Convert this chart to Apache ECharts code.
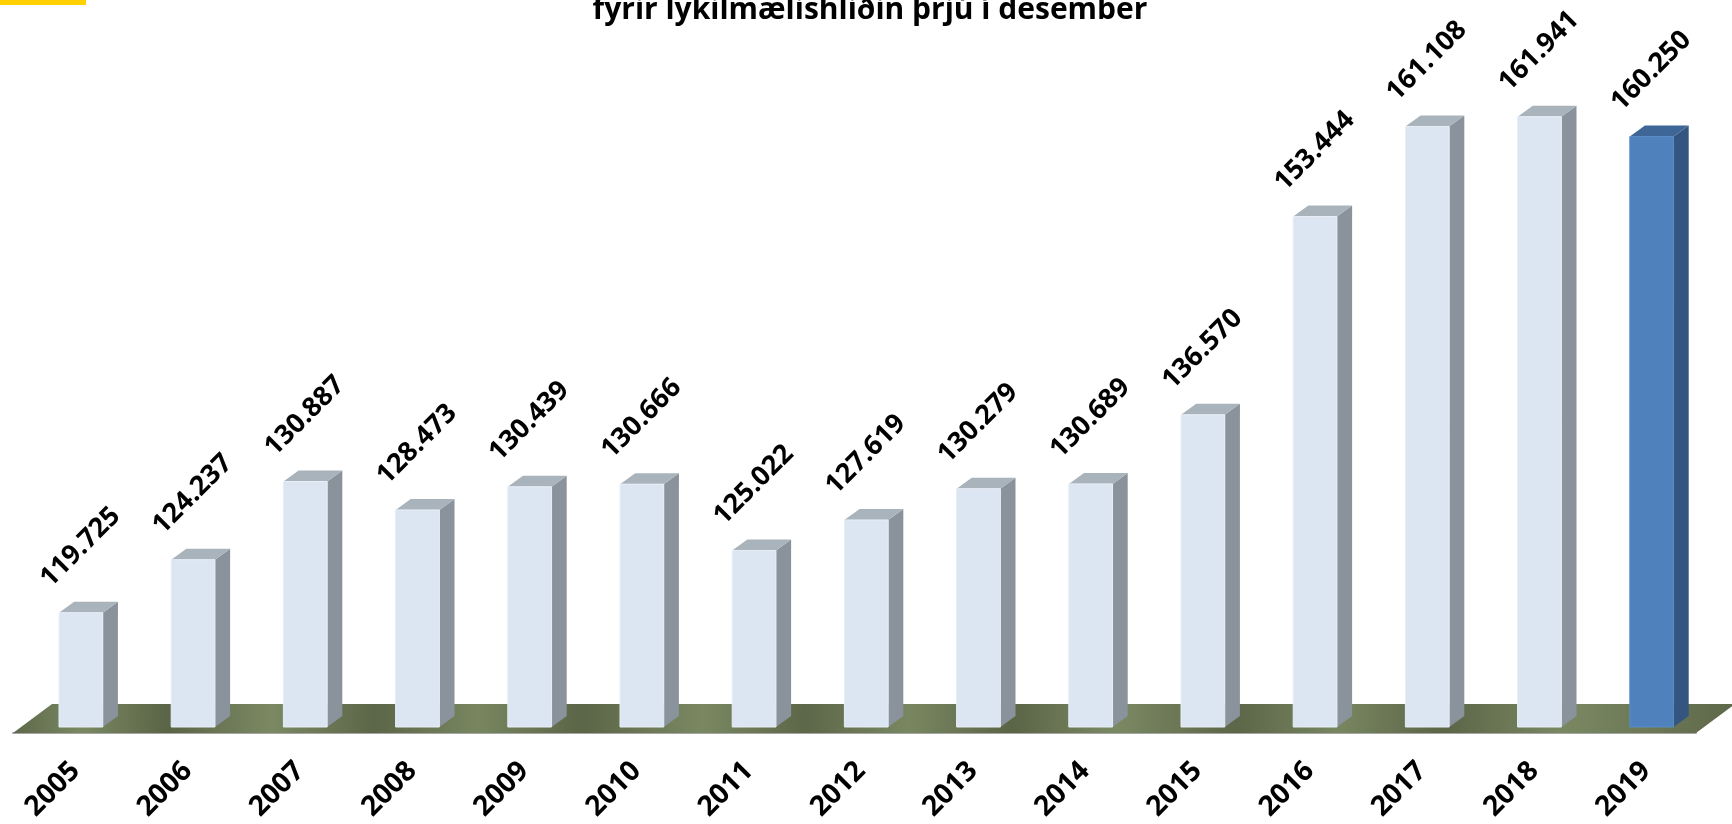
<!DOCTYPE html>
<html>
<head>
<meta charset="utf-8">
<script src="https://cdn.jsdelivr.net/npm/echarts@6/dist/echarts.min.js"></script>
<style>
html, body { margin: 0; padding: 0; background: #fff; }
#chart { width: 1732px; height: 824px; }
</style>
</head>
<body>
<div id="chart"></div>
<script>
// data
const years = ['2005', '2006', '2007', '2008', '2009', '2010', '2011', '2012', '2013', '2014', '2015', '2016', '2017', '2018', '2019'];
const visitors = [119725, 124237, 130887, 128473, 130439, 130666, 125022, 127619, 130279, 130689, 136570, 153444, 161108, 161941, 160250];
const highlightYear = '2019';
const titleText = 'fyrir lykilmælishliðin þrjú í desember';
const yMin = 110000;
const yMax = 170000;

const FONT = '"Open Sans", "DejaVu Sans", sans-serif';
const light = {front: '#dce6f2', side: '#8a939b', top: '#a9b3bc', edge: '#e8eef6'};
const blue = {front: '#4f81bd', side: '#34557f', top: '#3e6797', edge: '#5b8cc6'};

const fmt = v => String(v).replace(/\B(?=(\d{3})+(?!\d))/g, '.');

const floorFill = new echarts.graphic.LinearGradient(0, 0, 1, 0.35, [
    {offset: 0, color: '#5e684a'}, {offset: 0.04, color: '#7a8862'}, {offset: 0.09, color: '#5a6446'},
    {offset: 0.15, color: '#7b8963'}, {offset: 0.21, color: '#5c6648'}, {offset: 0.27, color: '#788660'},
    {offset: 0.33, color: '#5b6547'}, {offset: 0.40, color: '#7a8862'}, {offset: 0.46, color: '#5d6749'},
    {offset: 0.52, color: '#798761'}, {offset: 0.58, color: '#5a6446'}, {offset: 0.64, color: '#7b8963'},
    {offset: 0.71, color: '#5c6648'}, {offset: 0.77, color: '#788660'}, {offset: 0.83, color: '#5b6547'},
    {offset: 0.90, color: '#7a8862'}, {offset: 1, color: '#5e684a'}
]);

const renderFloor = (params, api) => {
    const base = api.coord([0, yMin]);
    const band = api.size([1, 0])[0];
    const left = base[0] - band / 2;
    const right = left + band * years.length;
    const front = base[1] + 6, back = base[1] - 23, dx = 39;
    return {
        type: 'polygon',
        shape: {points: [[left, front], [right, front], [right + dx, back], [left + dx, back]]},
        style: {fill: floorFill}
    };
};

const renderBar = (params, api) => {
    const idx = api.value(0);
    const val = api.value(1);
    const top = api.coord([idx, val])[1];
    const base = api.coord([idx, yMin]);
    const band = api.size([1, 0])[0];
    const w = band * 0.39, dx = band * 0.135, dy = 11;
    const x0 = base[0] - band / 2 + band * 0.41, x1 = x0 + w;
    const c = years[idx] === highlightYear ? blue : light;
    return {
        type: 'group',
        children: [
            {type: 'polygon', shape: {points: [[x1, base[1]], [x1 + dx, base[1] - dy], [x1 + dx, top - dy], [x1, top]]}, style: {fill: c.side}},
            {type: 'polygon', shape: {points: [[x0, top], [x1, top], [x1 + dx, top - dy], [x0 + dx, top - dy]]}, style: {fill: c.top}},
            {type: 'rect', shape: {x: x0, y: top, width: w, height: base[1] - top}, style: {fill: c.front, stroke: c.edge, lineWidth: 1}},
            {
                type: 'text', x: x0 - 14, y: top - 30, rotation: Math.PI / 4,
                style: {text: fmt(val), font: 'bold 27px ' + FONT, fill: '#000', align: 'left', verticalAlign: 'middle'}
            }
        ]
    };
};

const chart = echarts.init(document.getElementById('chart'));
chart.setOption({
    animation: false,
    grid: {left: 13, right: 36, top: 22, bottom: 97},
    graphic: [
        {type: 'rect', left: 0, top: 0, shape: {width: 86, height: 5}, style: {fill: '#ffd100'}},
        {
            type: 'text', x: 870, y: -5,
            style: {text: titleText, font: 'bold 30px ' + FONT, fill: '#000', align: 'center', verticalAlign: 'top'}
        }
    ],
    xAxis: {
        type: 'category',
        data: years,
        offset: 6,
        axisLine: {lineStyle: {color: '#a6a6a6', width: 2}},
        axisTick: {length: 10, lineStyle: {color: '#a6a6a6', width: 2}},
        axisLabel: {rotate: 45, margin: 40, padding: [0, -9, 0, 0], color: '#000', fontWeight: 'bold', fontSize: 28, fontFamily: FONT}
    },
    yAxis: {type: 'value', min: yMin, max: yMax, show: false, splitLine: {show: false}},
    series: [
        {type: 'custom', renderItem: renderFloor, data: [[0, yMin]], encode: {x: 0, y: 1}, silent: true, z: 1},
        {type: 'custom', renderItem: renderBar, data: years.map((y, i) => [i, visitors[i]]), encode: {x: 0, y: 1}, z: 3}
    ]
});
</script>
</body>
</html>
